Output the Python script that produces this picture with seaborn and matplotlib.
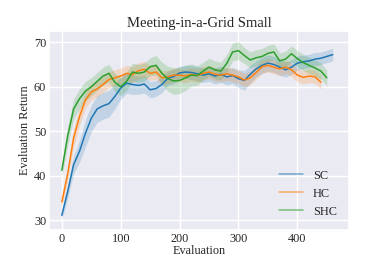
import numpy as np
import pandas as pd
import seaborn as sns
import matplotlib.pyplot as plt

evals_sc = list(range(0, 461, 10))
sc_mean = [31.1, 36.5, 42.5, 45.5, 49.5, 52.9, 55.0, 55.7, 56.2, 57.8,
           59.7, 60.8, 60.5, 60.3, 60.6, 59.3, 59.6, 60.5, 61.9, 62.3,
           63.1, 63.3, 63.2, 62.9, 62.6, 62.9, 62.4, 62.8, 62.2, 62.5,
           61.8, 61.4, 62.8, 64.0, 64.8, 65.3, 65.0, 64.4, 63.8, 64.4,
           65.3, 65.6, 65.8, 66.2, 66.4, 66.8, 67.2]
sc_std = [1.0, 1.5, 2.0, 2.5, 3.0, 3.0, 3.0, 3.0, 3.0, 2.8,
          2.5, 2.3, 2.2, 2.0, 2.0, 1.8, 1.8, 1.8, 1.6, 1.6,
          1.5, 1.5, 1.6, 1.6, 1.7, 1.7, 1.8, 1.8, 1.8, 1.8,
          2.0, 2.2, 2.0, 1.8, 1.8, 1.8, 1.8, 1.8, 1.7, 1.6,
          1.6, 1.5, 1.5, 1.5, 1.4, 1.4, 1.4]

evals_hc = list(range(0, 441, 10))
hc_mean = [34.1, 40.5, 48.5, 53.3, 57.0, 58.8, 59.5, 60.5, 61.6, 62.0,
           62.4, 63.0, 62.7, 63.6, 63.9, 63.0, 63.3, 62.0, 62.2, 62.6,
           62.6, 62.4, 62.8, 62.5, 63.0, 63.3, 62.8, 62.6, 62.9, 62.6,
           62.2, 61.5, 62.0, 63.2, 64.5, 64.8, 64.4, 64.0, 64.4, 63.8,
           62.6, 62.1, 62.4, 62.2, 61.0]
hc_std = [1.0, 1.5, 2.0, 2.0, 1.8, 1.8, 1.8, 1.8, 1.8, 1.8,
          1.8, 1.8, 1.8, 1.8, 1.8, 1.6, 1.6, 1.6, 1.5, 1.5,
          1.5, 1.5, 1.5, 1.5, 1.5, 1.5, 1.5, 1.5, 1.5, 1.5,
          1.5, 1.5, 1.5, 1.5, 1.5, 1.5, 1.5, 1.5, 1.5, 1.5,
          1.5, 1.5, 1.5, 1.5, 1.5]

evals_shc = list(range(0, 451, 10))
shc_mean = [41.2, 49.0, 55.0, 57.3, 59.0, 60.0, 61.2, 62.4, 63.0, 61.0,
            60.0, 61.2, 63.3, 63.0, 63.3, 64.5, 64.8, 63.0, 61.8, 61.3,
            61.4, 62.0, 62.6, 62.5, 63.5, 64.4, 63.8, 63.5, 65.2, 67.8,
            68.1, 67.0, 66.0, 66.5, 66.8, 67.5, 67.8, 65.8, 66.2, 67.4,
            66.3, 65.4, 64.8, 64.2, 63.5, 62.0]
shc_std = [1.5, 2.0, 2.2, 2.2, 2.2, 2.0, 2.0, 2.0, 2.0, 2.0,
           2.0, 2.0, 2.0, 2.0, 2.0, 2.0, 2.2, 2.5, 2.8, 3.0,
           3.0, 2.8, 2.5, 2.2, 2.0, 2.0, 2.0, 2.0, 2.0, 2.0,
           2.0, 1.8, 1.8, 1.8, 1.8, 1.8, 1.8, 1.8, 1.8, 1.8,
           1.8, 1.8, 1.8, 1.8, 1.8, 1.8]

series = [("SC", evals_sc, sc_mean, sc_std),
          ("HC", evals_hc, hc_mean, hc_std),
          ("SHC", evals_shc, shc_mean, shc_std)]

sns.set_theme(style="darkgrid")
plt.rcParams['font.family'] = ['Liberation Serif', 'DejaVu Serif']

fig = plt.figure(figsize=(3.88, 2.59), dpi=100)
ax = fig.add_axes([0.126, 0.112, 0.774, 0.768])

colors = sns.color_palette("tab10")
for i, (name, x, m, s) in enumerate(series):
    df = pd.DataFrame({"Evaluation": x, "Evaluation Return": m})
    sns.lineplot(data=df, x="Evaluation", y="Evaluation Return", ax=ax,
                 color=colors[i], linewidth=1.1, label=name)
    m = np.array(m)
    s = np.array(s)
    ax.fill_between(x, m - s, m + s, color=colors[i], alpha=0.2, linewidth=0)

ax.set_xlim(-22, 488)
ax.set_ylim(27.8, 72.5)
ax.set_xticks([0, 100, 200, 300, 400])
ax.set_yticks([30, 40, 50, 60, 70])
ax.tick_params(labelsize=8.8, length=0, pad=2)
ax.set_xlabel("Evaluation", fontsize=8.8, labelpad=0)
ax.set_ylabel("Evaluation Return", fontsize=8.8, labelpad=2)
ax.set_title("Meeting-in-a-Grid Small", fontsize=10.5, pad=3)

leg = ax.legend(loc="lower right", frameon=False, fontsize=8.8,
                borderaxespad=0.6)
for line in leg.get_lines():
    line.set_alpha(0.6)

fig.savefig("out.png", dpi=100)
